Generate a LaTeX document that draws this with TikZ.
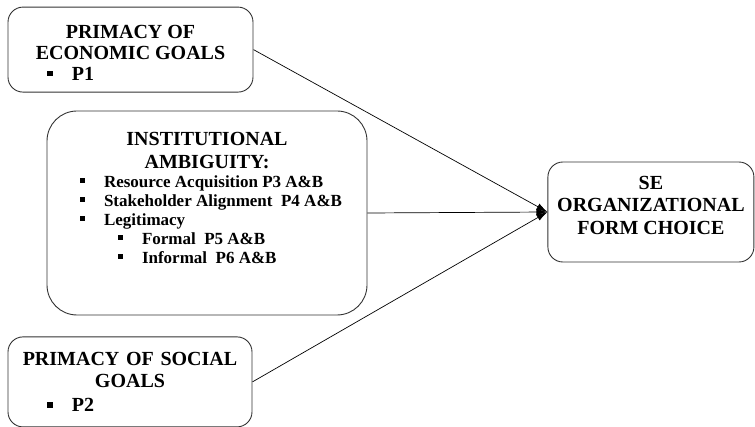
\documentclass[tikz,border=0pt]{standalone}
\usepackage{fontspec}
\setmainfont{Liberation Serif}
\usepackage{enumitem}
\usetikzlibrary{positioning}
\usetikzlibrary{arrows.meta}
\tikzstyle{goal} = [rectangle, draw=black!80, line width=0.9pt, rounded corners=15pt,
inner sep=0pt, font=\fontsize{20}{21}\selectfont\bfseries]
\tikzstyle{ambiguity} = [goal, rounded corners=30pt, minimum height=204pt]
\tikzstyle{choice} = [goal, minimum width=206pt, minimum height=100pt]
\tikzstyle{path} = [line width=0.7pt]
\tikzset{>={Latex[length=11pt,width=7pt]}}
\newcommand{\sqbullet}{\rule[4pt]{5.5pt}{5.5pt}}
\newcommand{\topbox}[3]{\parbox[c][#1][t]{#2}{#3}}
\setlist[itemize]{nosep, label=\sqbullet, labelsep=19pt}
\newcommand{\feed}[3][]{ %
  % Arrow from every node in #2 into node #3.
  \foreach \x in {#2} { %
    \draw[->,#1] (\x) -- (#3) ;%
  } ;
}

\begin{document}
\begin{tikzpicture}[x=1pt,y=1pt]
  \useasboundingbox (0,0) rectangle (755,-427);

  \node[ambiguity] (inst) at (207,-213) {\topbox{162pt}{320pt}{%
    {\centering\fontsize{20}{23}\selectfont INSTITUTIONAL\\ AMBIGUITY:\par}
    \begin{itemize}[leftmargin=57pt, before=\fontsize{17}{19}\selectfont]
      \item Resource Acquisition P3 A\&B
      \item Stakeholder Alignment\ \ P4 A\&B
      \item Legitimacy
      \begin{itemize}[leftmargin=38pt]
        \item Formal\ \ P5 A\&B
        \item Informal\ \ P6 A\&B
      \end{itemize}
    \end{itemize}}};
  \node[goal, minimum height=85pt, above=18pt of inst, xshift=-76.5pt] (econ) {\topbox{49pt}{245pt}{%
    {\centering PRIMACY OF\\ ECONOMIC GOALS\par}
    \begin{itemize}[leftmargin=64pt] \item P1 \end{itemize}}};
  \node[goal, text width=244pt, minimum height=90pt, below=21pt of inst, xshift=-77pt] (social) {%
    {\centering\fontsize{20}{22}\selectfont PRIMACY OF SOCIAL\\ GOALS\par}
    \begin{itemize}[leftmargin=64pt, before=\fontsize{20}{24}\selectfont] \item P2 \end{itemize}};

  \node[choice, right=180pt of inst, yshift=1pt] (se) {\topbox{72pt}{206pt}{%
    \centering\fontsize{20}{22.5}\selectfont SE\\ ORGANIZATIONAL\\ FORM CHOICE}};

  \feed[path] {econ.east, inst.east, social.east} {se.west};
\end{tikzpicture}
\end{document}
